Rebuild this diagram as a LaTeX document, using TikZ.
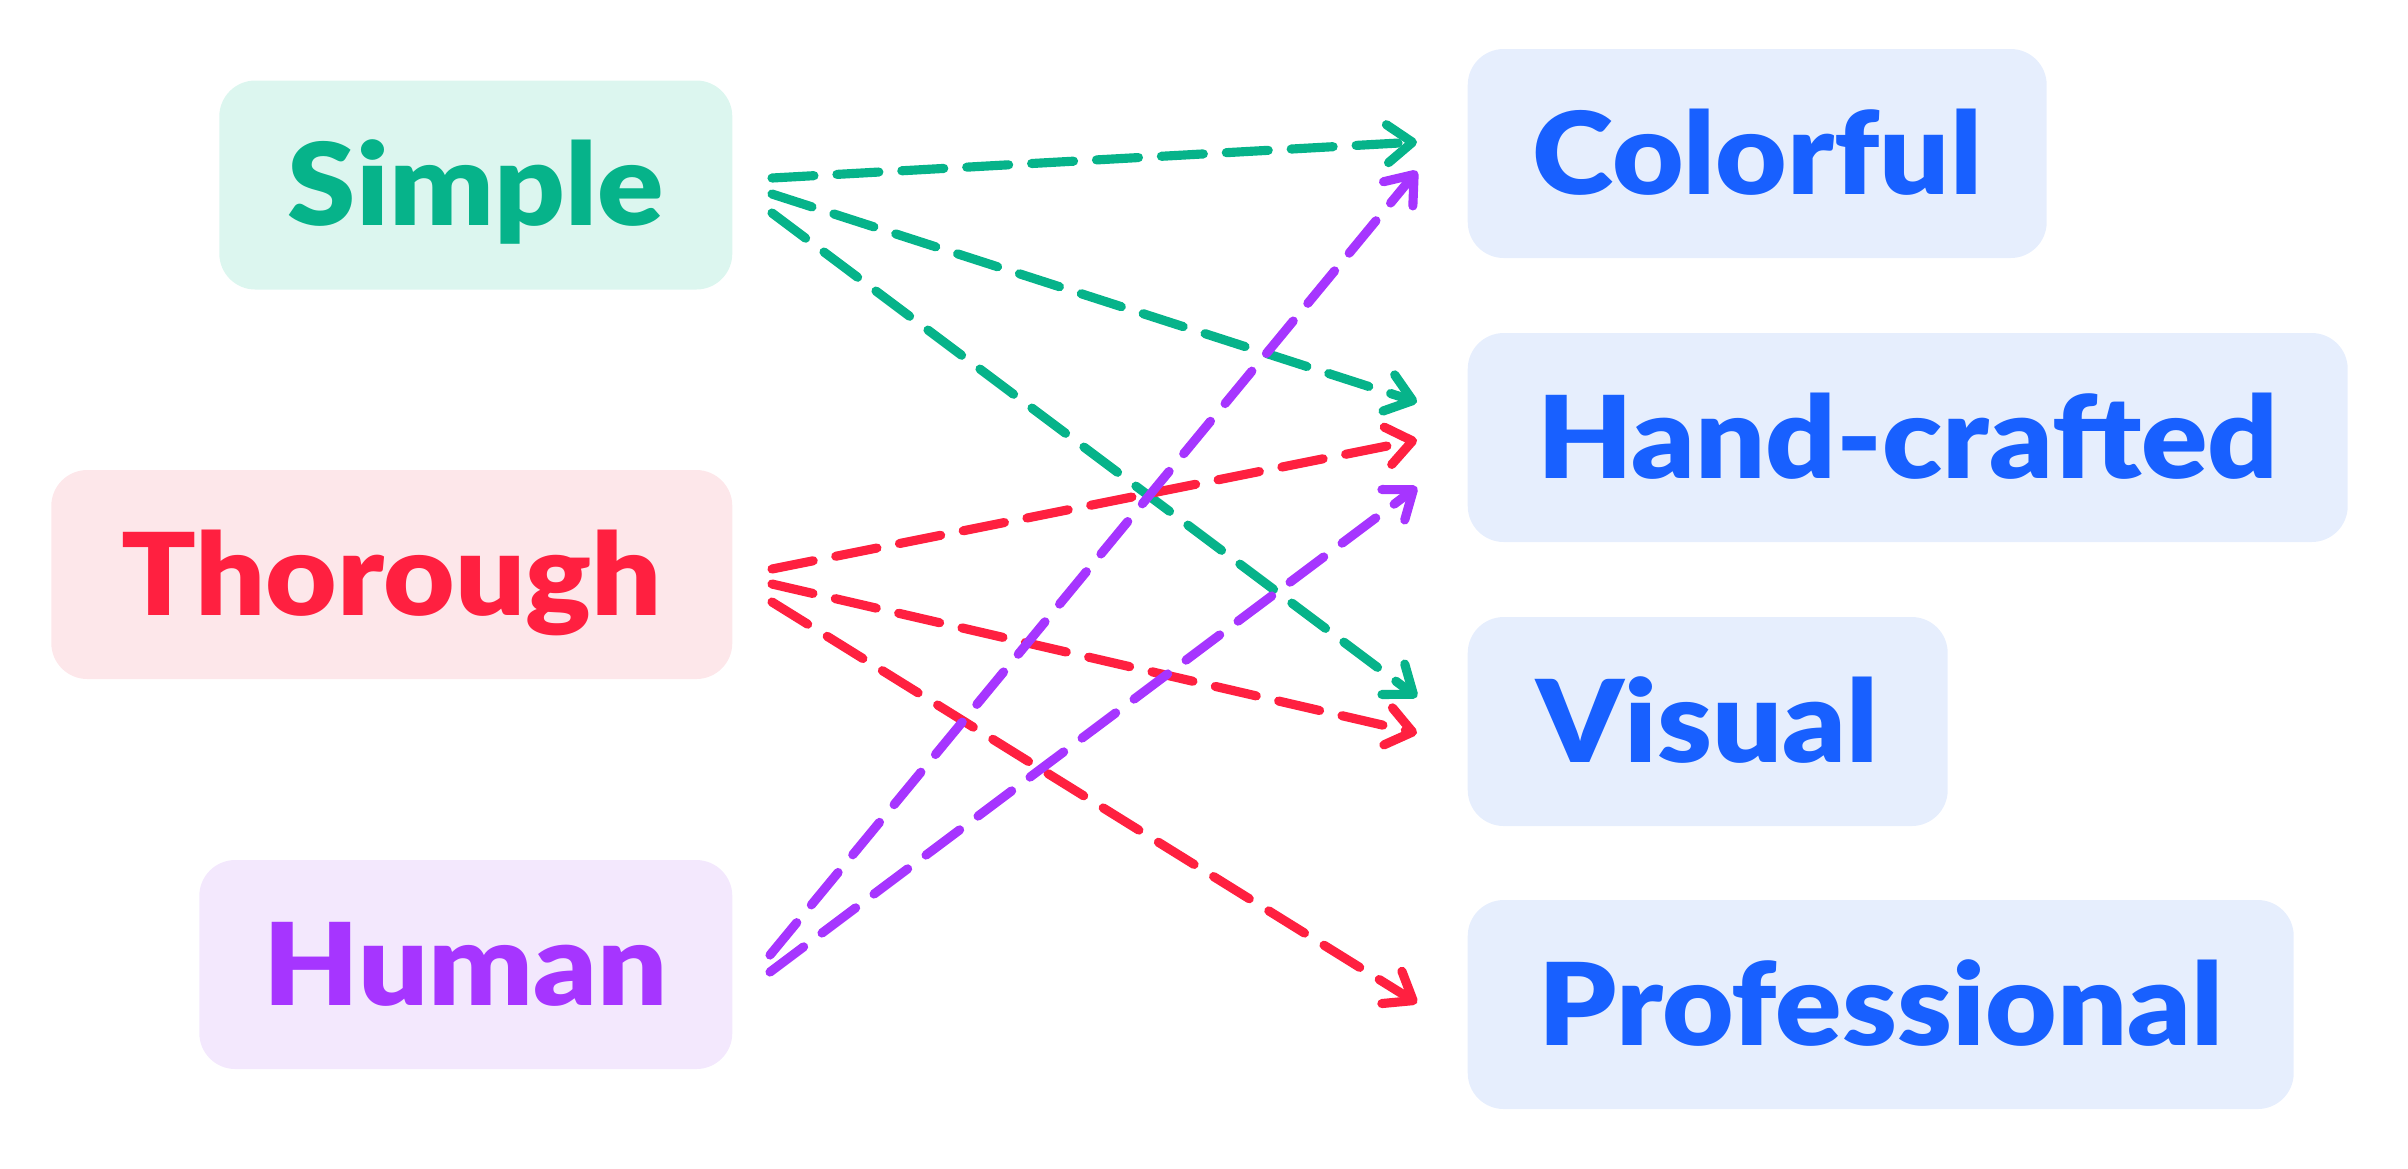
\documentclass[tikz,border=0pt]{standalone}
\usepackage{fontspec}
\setmainfont{Lato}[BoldFont={Lato Black}, BoldFeatures={FakeStretch=1.08}]
\usetikzlibrary{arrows.meta}
\definecolor{simplegreen}{RGB}{6, 179, 138}
\definecolor{simplefill}{RGB}{220, 246, 239}
\definecolor{thoroughred}{RGB}{255, 32, 64}
\definecolor{thoroughfill}{RGB}{253, 231, 234}
\definecolor{humanpurple}{RGB}{166, 53, 255}
\definecolor{humanfill}{RGB}{243, 232, 253}
\definecolor{traitblue}{RGB}{24, 96, 255}
\definecolor{traitfill}{RGB}{230, 238, 253}

\begin{document}
\begin{tikzpicture}[
      font=\fontsize{32.5}{38}\selectfont\bfseries,
      box/.style={rectangle, rounded corners=0.36cm, minimum height=2.09cm,
                  inner sep=0pt, text height=23.3pt, text depth=0pt},
      source/.style={box, anchor=east},
      trait/.style={box, anchor=west, text=traitblue, fill=traitfill},
      link/.style={draw=#1, line width=2.6pt, line cap=round,
                   dash pattern=on 0.42cm off 0.23cm,
                   -{Straight Barb[length=2.5mm, width=3.8mm, round]}}
  ]
  \useasboundingbox (0,0) rectangle (24.08,-11.68);

  % left column
  \node[source, text=simplegreen, fill=simplefill, minimum width=5.13cm]
        (simple)   at (7.33,-1.85)  {Simple};
  \node[source, text=thoroughred, fill=thoroughfill, minimum width=6.81cm]
        (thorough) at (7.33,-5.745) {Thorough};
  \node[source, text=humanpurple, fill=humanfill, minimum width=5.33cm]
        (human)    at (7.33,-9.645) {Human};

  % right column
  \node[trait, minimum width=5.79cm] (colorful)     at (14.67,-1.535)  {Colorful};
  \node[trait, minimum width=8.80cm] (handcrafted)  at (14.67,-4.375)  {Hand-crafted};
  \node[trait, minimum width=4.80cm] (visual)       at (14.67,-7.215)  {Visual};
  \node[trait, minimum width=8.26cm] (professional) at (14.67,-10.045) {Professional};

  % simple
  \draw[link=simplegreen] ([xshift=0.39cm, yshift=0.07cm]simple.east)
        -- ([xshift=-0.5cm, yshift=0.115cm]colorful.west);
  \draw[link=simplegreen] ([xshift=0.39cm, yshift=-0.09cm]simple.east)
        -- ([xshift=-0.5cm, yshift=0.355cm]handcrafted.west);
  \draw[link=simplegreen] ([xshift=0.39cm, yshift=-0.28cm]simple.east)
        -- ([xshift=-0.5cm, yshift=0.245cm]visual.west);

  % thorough
  \draw[link=thoroughred] ([xshift=0.39cm, yshift=0.055cm]thorough.east)
        -- ([xshift=-0.5cm, yshift=-0.025cm]handcrafted.west);
  \draw[link=thoroughred] ([xshift=0.39cm, yshift=-0.095cm]thorough.east)
        -- ([xshift=-0.5cm, yshift=-0.115cm]visual.west);
  \draw[link=thoroughred] ([xshift=0.39cm, yshift=-0.275cm]thorough.east)
        -- ([xshift=-0.5cm, yshift=0.015cm]professional.west);

  % human
  \draw[link=humanpurple] ([xshift=0.37cm, yshift=0.095cm]human.east)
        -- ([xshift=-0.5cm, yshift=-0.175cm]colorful.west);
  \draw[link=humanpurple] ([xshift=0.37cm, yshift=-0.075cm]human.east)
        -- ([xshift=-0.5cm, yshift=-0.495cm]handcrafted.west);
\end{tikzpicture}
\end{document}
